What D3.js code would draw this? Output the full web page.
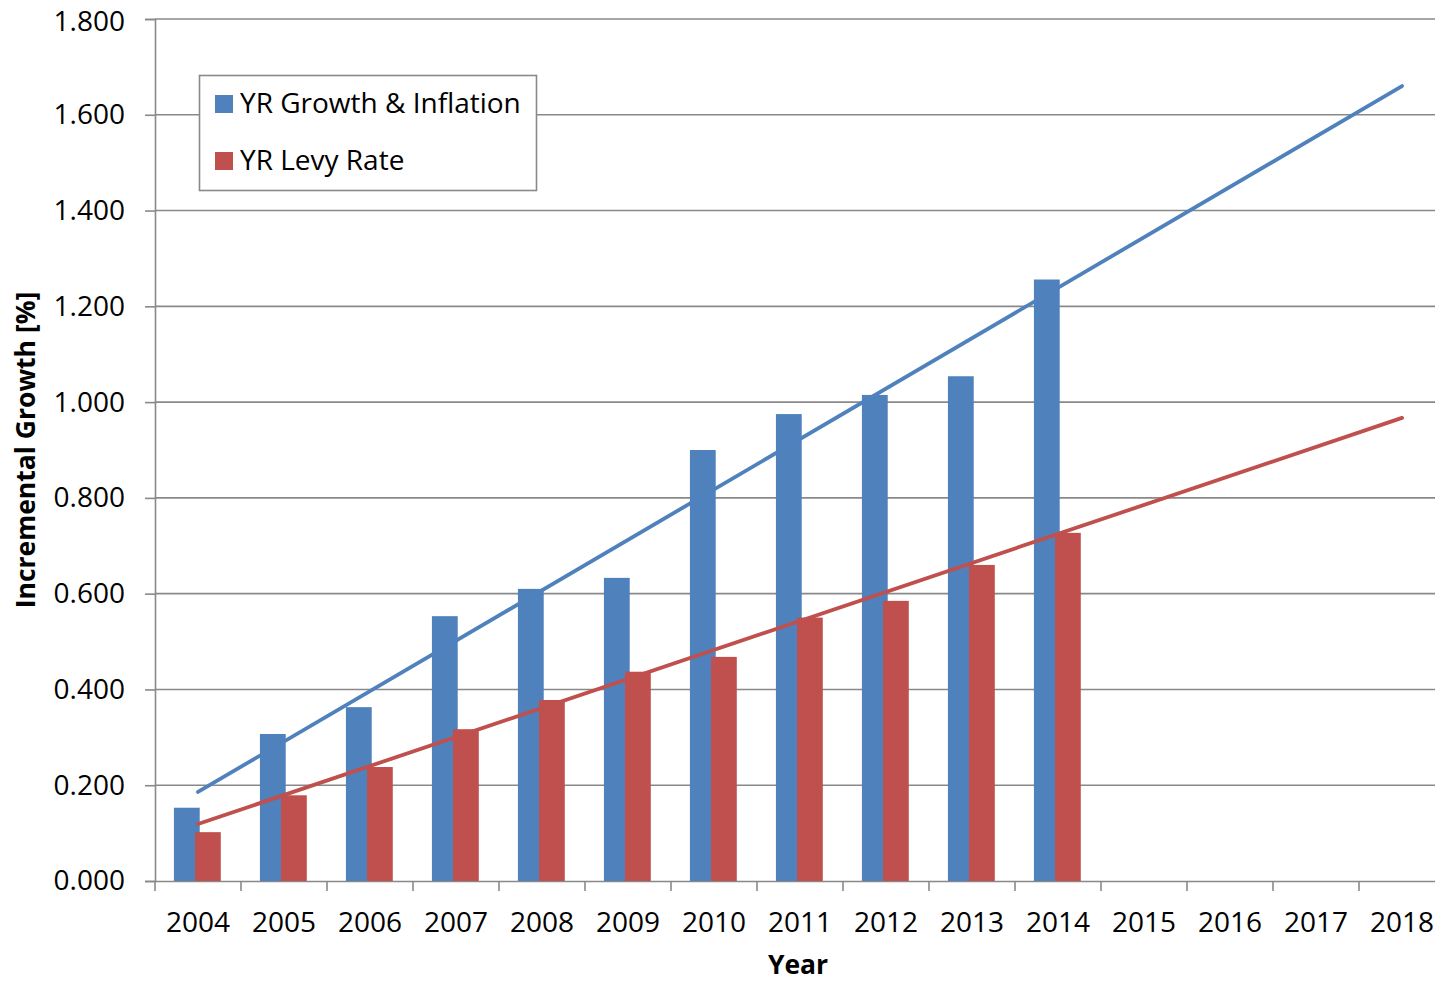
<!DOCTYPE html>
<html>
<head>
<meta charset="utf-8">
<script src="https://cdn.jsdelivr.net/npm/d3@7"></script>
<style>
  html, body { margin: 0; padding: 0; background: #fff; }
  svg { display: block; font-family: "Open Sans", "Noto Sans", sans-serif; }
</style>
</head>
<body>
<svg id="chart" width="1435" height="982"></svg>
<script>
const years = ["2004","2005","2006","2007","2008","2009","2010","2011","2012","2013","2014","2015","2016","2017","2018"];
const growthYears = ["2004","2005","2006","2007","2008","2009","2010","2011","2012","2013","2014"];
const growthInflation = [0.153, 0.307, 0.363, 0.553, 0.610, 0.633, 0.900, 0.975, 1.015, 1.054, 1.256];
const levyRate = [0.102, 0.179, 0.238, 0.317, 0.378, 0.437, 0.468, 0.550, 0.585, 0.660, 0.727];
const trendYears = ["2004", "2018"];
const growthTrend = [0.186, 1.660];
const levyTrend = [0.119, 0.967];
const yTicks = [0, 0.2, 0.4, 0.6, 0.8, 1.0, 1.2, 1.4, 1.6, 1.8];
const seriesNames = ["YR Growth & Inflation", "YR Levy Rate"];
const colors = ["#4F81BD", "#C0504D"];

const FONT = "'Open Sans', 'Noto Sans', sans-serif";
const svg = d3.select("#chart");
const mLeft = 155, mTop = 19, mBottom = 881, mRight = 155 + 15 * 86;

const x = d3.scaleBand().domain(years).range([mLeft, mRight]).padding(0);
const y = d3.scaleLinear().domain([0, 1.8]).range([mBottom, mTop]);
const step = x.bandwidth();

// gridlines
svg.append("g").selectAll("line").data(yTicks.filter(d => d > 0)).join("line")
  .attr("x1", mLeft).attr("x2", 1435)
  .attr("y1", d => y(d)).attr("y2", d => y(d))
  .attr("stroke", "#898989").attr("stroke-width", 1.6);

// y axis
const yAxis = d3.axisLeft(y).tickValues(yTicks).tickFormat(d3.format(".3f")).tickSize(10).tickPadding(20);
const gy = svg.append("g").attr("transform", `translate(${mLeft},0)`).call(yAxis);
gy.select(".domain").attr("stroke", "#898989").attr("stroke-width", 1.6);
gy.selectAll(".tick line").attr("stroke", "#898989").attr("stroke-width", 1.6);
gy.selectAll(".tick text").attr("font-size", 28).attr("fill", "#000").attr("font-family", FONT)
  .attr("dy", d => d === 1.8 ? "0.4em" : "0.32em");

// x axis
const xAxis = d3.axisBottom(x).tickSize(0).tickPadding(31);
const gx = svg.append("g").attr("transform", `translate(0,${mBottom})`).call(xAxis);
gx.select(".domain").attr("stroke", "#898989").attr("stroke-width", 1.6);
gx.selectAll(".tick text").attr("font-size", 28).attr("fill", "#000").attr("font-family", FONT);
// x boundary ticks
svg.append("g").selectAll("line").data(years).join("line")
  .attr("x1", d => x(d)).attr("x2", d => x(d))
  .attr("y1", mBottom).attr("y2", mBottom + 10)
  .attr("stroke", "#898989").attr("stroke-width", 1.6);

// bars
const barW = step * 0.30;
svg.append("g").selectAll("rect").data(growthYears.map((yr, i) => ({yr, v: growthInflation[i]}))).join("rect")
  .attr("x", d => x(d.yr) + step / 2 - step * 0.28)
  .attr("width", barW)
  .attr("y", d => y(d.v))
  .attr("height", d => mBottom - y(d.v))
  .attr("fill", colors[0]);
svg.append("g").selectAll("rect").data(growthYears.map((yr, i) => ({yr, v: levyRate[i]}))).join("rect")
  .attr("x", d => x(d.yr) + step / 2 - step * 0.035)
  .attr("width", barW)
  .attr("y", d => y(d.v))
  .attr("height", d => mBottom - y(d.v))
  .attr("fill", colors[1]);

// trend lines
const line = d3.line().x(d => x(d[0]) + step / 2).y(d => y(d[1]));
[growthTrend, levyTrend].forEach((t, i) => {
  svg.append("path")
    .attr("d", line(trendYears.map((yr, j) => [yr, t[j]])))
    .attr("fill", "none").attr("stroke", colors[i]).attr("stroke-width", 3.8)
    .attr("stroke-linecap", "round");
});

// legend
const lg = svg.append("g");
lg.append("rect").attr("x", 199.5).attr("y", 75.5).attr("width", 337).attr("height", 115)
  .attr("fill", "#fff").attr("stroke", "#898989").attr("stroke-width", 1.6);
seriesNames.forEach((name, i) => {
  const base = 113 + i * 57;
  lg.append("rect").attr("x", 215).attr("y", base - 18).attr("width", 18).attr("height", 18).attr("fill", colors[i]);
  lg.append("text").attr("x", 240).attr("y", base)
    .attr("font-size", 28).attr("fill", "#000").attr("font-family", FONT).text(name);
});

// axis titles
svg.append("text").attr("x", 798).attr("y", 974)
  .attr("text-anchor", "middle").attr("font-size", 26.5).attr("font-weight", "bold")
  .attr("font-family", FONT).text("Year");
svg.append("text").attr("transform", "translate(26,450) rotate(-90)").attr("dy", "0.35em")
  .attr("text-anchor", "middle").attr("font-size", 26.5).attr("font-weight", "bold")
  .attr("font-family", FONT).text("Incremental Growth [%]");
</script>
</body>
</html>
